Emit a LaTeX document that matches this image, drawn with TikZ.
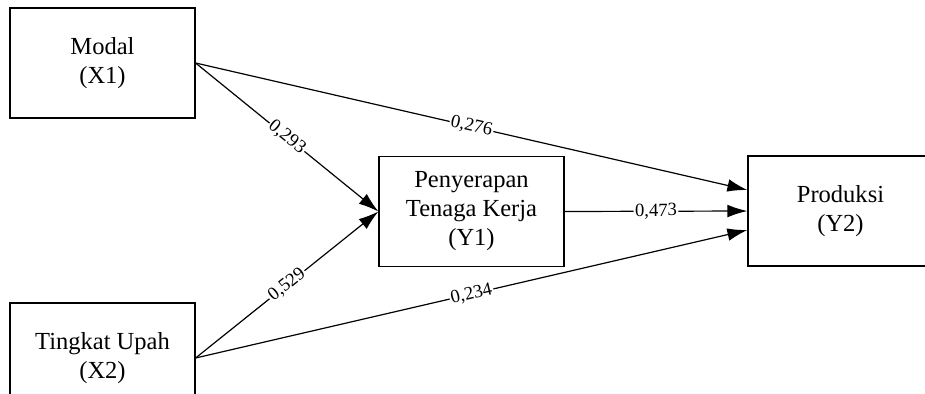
\documentclass[tikz,border=0pt]{standalone}
\usepackage{fontspec}
\setmainfont{Liberation Serif}
\usetikzlibrary{arrows.meta,calc}
\begin{document}
\begin{tikzpicture}[x=0.75pt,y=-0.75pt,
  box/.style={draw,line width=0.9pt,minimum width=138.75pt,minimum height=82.5pt,
    align=center,inner sep=0pt,font=\fontsize{18.4}{21.75}\selectfont},
  conn/.style={line width=0.9pt,-{Latex[length=15pt,width=9.5pt]}},
  coef/.style={midway,sloped,fill=white,inner sep=1pt,font=\fontsize{14}{16}\selectfont}]
\useasboundingbox (0,0) rectangle (925,393);
\clip (0,0) rectangle (925,393);
\node[box] (x1) at (102.5,63) {Modal\\(X1)};
\node[box] (x2) at (102.5,358) {Tingkat Upah\\(X2)};
\node[box] (y1) at (471.5,211.5) {Penyerapan\\Tenaga Kerja\\(Y1)};
\node[box] (y2) at (840.5,211) {Produksi\\(Y2)};
\coordinate (y2a) at ($(y2.west)+(0,-21)$);
\coordinate (y2c) at ($(y2.west)+(0,19)$);
\draw[conn] (x1.east) -- (y1.west) node[coef] {0,293};
\draw[conn] (x2.east) -- (y1.west) node[coef] {0,529};
\draw[conn] (x1.east) -- (y2a) node[coef] {0,276};
\draw[conn] (x2.east) -- (y2c) node[coef] {0,234};
\draw[conn] (y1.east) -- (y2.west) node[coef] {0,473};
\end{tikzpicture}
\end{document}
